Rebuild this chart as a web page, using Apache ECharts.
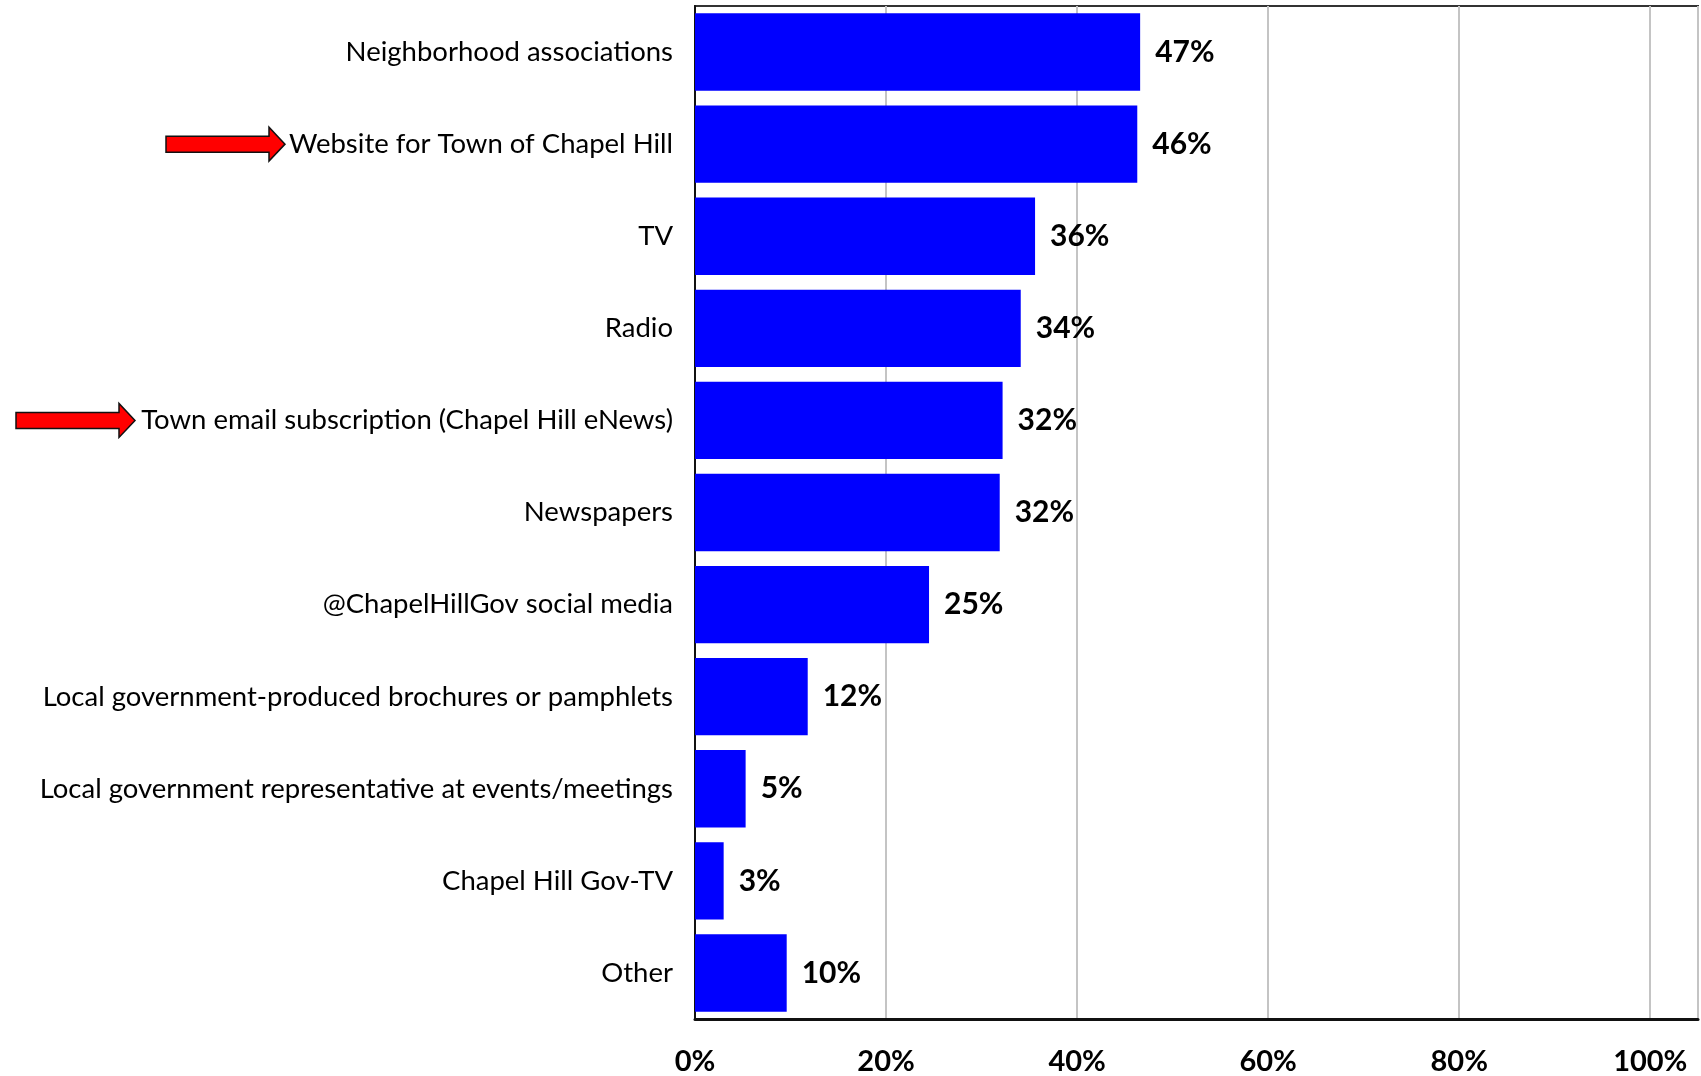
<!DOCTYPE html>
<html><head><meta charset="utf-8">
<script src="https://cdn.jsdelivr.net/npm/echarts@6/dist/echarts.min.js"></script>
<style>html,body{margin:0;padding:0;background:#fff}#c{width:1701px;height:1076px}</style>
</head><body><div id="c"></div>
<script>
const categories = [
  'Neighborhood associations',
  'Website for Town of Chapel Hill',
  'TV',
  'Radio',
  'Town email subscription (Chapel Hill eNews)',
  'Newspapers',
  '@ChapelHillGov social media',
  'Local government-produced brochures or pamphlets',
  'Local government representative at events/meetings',
  'Chapel Hill Gov-TV',
  'Other'
];
const values = [46.6, 46.3, 35.6, 34.1, 32.2, 31.9, 24.5, 11.8, 5.3, 3.0, 9.6];
const tickValues = [0, 20, 40, 60, 80, 100];
const arrowedCategories = ['Website for Town of Chapel Hill', 'Town email subscription (Chapel Hill eNews)'];
const arrowTipX = [285, 135];

const FONT = 'Lato, "Open Sans", sans-serif';
const chart = echarts.init(document.getElementById('c'), null, {renderer: 'canvas'});
chart.setOption({
  animation: false,
  backgroundColor: '#fff',
  grid: {left: 695, top: 6, width: 1012, height: 1015, show: true, borderColor: '#333', borderWidth: 2, containLabel: false},
  xAxis: {
    type: 'value', min: 0, max: 105, interval: 20,
    axisLine: {show: true, lineStyle: {color: '#111', width: 3}},
    axisTick: {show: false},
    splitLine: {show: true, lineStyle: {color: '#c4c4c4', width: 2}},
    axisLabel: {
      margin: 28, color: '#000', fontFamily: FONT, fontWeight: 'bold', fontSize: 29,
      formatter: v => tickValues.indexOf(v) >= 0 ? v + '%' : ''
    }
  },
  yAxis: {
    type: 'category', data: categories, inverse: true,
    axisLine: {show: true, lineStyle: {color: '#111', width: 2}},
    axisTick: {show: false},
    axisLabel: {margin: 22, color: '#000', fontFamily: FONT, fontSize: 27.5}
  },
  series: [{
    type: 'bar', data: values, barCategoryGap: '16%',
    itemStyle: {color: '#0000ff'},
    label: {
      show: true, position: 'right', distance: 15, color: '#000',
      fontFamily: FONT, fontWeight: 'bold', fontSize: 30,
      formatter: p => Math.round(p.value) + '%'
    }
  }]
});

const arrows = arrowedCategories.map((cat, i) => {
  const y = chart.convertToPixel({yAxisIndex: 0}, cat);
  const tip = arrowTipX[i];
  const len = 119, head = 16, sh = 8, hh = 17;
  const x0 = tip - len, hb = tip - head;
  return {
    type: 'polygon',
    shape: {points: [[x0, y - sh], [hb, y - sh], [hb, y - hh], [tip, y], [hb, y + hh], [hb, y + sh], [x0, y + sh]]},
    style: {fill: '#ff0000', stroke: '#111', lineWidth: 1.5}
  };
});
chart.setOption({graphic: arrows});
</script>
</body></html>
